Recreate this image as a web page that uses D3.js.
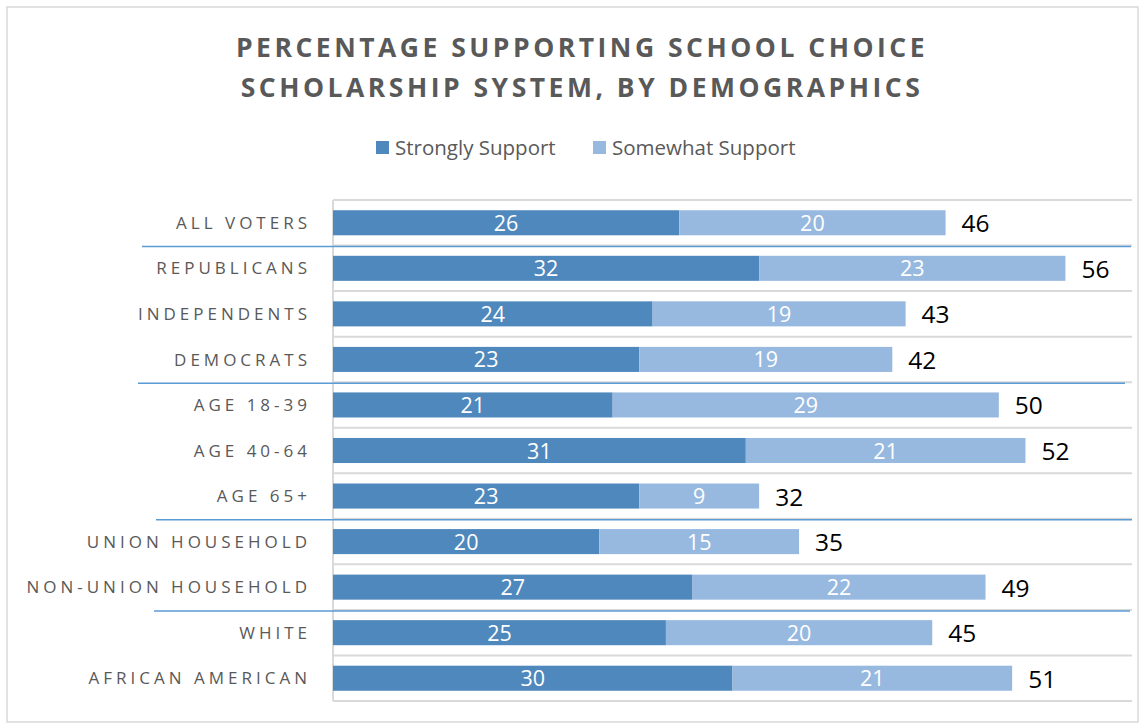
<!DOCTYPE html>
<html>
<head>
<meta charset="utf-8">
<script src="https://cdn.jsdelivr.net/npm/d3@7/dist/d3.min.js"></script>
<style>
  html, body { margin: 0; padding: 0; background: #fff; }
  svg { display: block; }
</style>
</head>
<body>
<svg id="chart" width="1145" height="725"></svg>
<script>
// Survey groups, top to bottom
const categories = [
  "ALL VOTERS", "REPUBLICANS", "INDEPENDENTS", "DEMOCRATS",
  "AGE 18-39", "AGE 40-64", "AGE 65+",
  "UNION HOUSEHOLD", "NON-UNION HOUSEHOLD",
  "WHITE", "AFRICAN AMERICAN"
];
const strongly = [26, 32, 24, 23, 21, 31, 23, 20, 27, 25, 30];
const somewhat = [20, 23, 19, 19, 29, 21, 9, 15, 22, 20, 21];
const totals   = [46, 56, 43, 42, 50, 52, 32, 35, 49, 45, 51];
const seriesNames = ["Strongly Support", "Somewhat Support"];
// Groups end after these categories; a divider is drawn below each
const groupEnds = ["ALL VOTERS", "DEMOCRATS", "AGE 65+", "NON-UNION HOUSEHOLD"];
const xDomainMax = 60;

const colors = ["#4f88bc", "#97b9e0"];
const svg = d3.select("#chart");
const W = 1145, H = 725;

// chart frame
svg.append("rect").attr("x", 7).attr("y", 7).attr("width", W - 14).attr("height", H - 10)
  .attr("fill", "#fff").attr("stroke", "#d9d9d9").attr("stroke-width", 1.5);

const plot = { left: 333, right: 1132, top: 200, bottom: 701 };

const x = d3.scaleLinear().domain([0, xDomainMax]).range([plot.left, plot.right]);
const y = d3.scaleBand().domain(categories).range([plot.top, plot.bottom]).paddingInner(0.45).paddingOuter(0.225);
const step = y.step();

// title
const title = svg.append("text").attr("text-anchor", "middle")
  .attr("font-family", "'Open Sans', sans-serif").attr("font-weight", 700)
  .attr("font-size", 26.5).attr("fill", "#595959").attr("letter-spacing", 3.5);
title.append("tspan").attr("x", 582).attr("y", 57).text("PERCENTAGE SUPPORTING SCHOOL CHOICE");
title.append("tspan").attr("x", 582).attr("y", 97).text("SCHOLARSHIP SYSTEM, BY DEMOGRAPHICS");

// legend
const legendX = [376, 593];
seriesNames.forEach((name, i) => {
  const g = svg.append("g").attr("transform", `translate(${legendX[i]},141)`);
  g.append("rect").attr("width", 13).attr("height", 13).attr("fill", colors[i]);
  g.append("text").attr("x", 19).attr("y", 14)
    .attr("font-family", "'Open Sans', sans-serif").attr("font-size", 20.5)
    .attr("fill", "#595959").text(name);
});

// horizontal gridlines at category boundaries
const boundaries = d3.range(categories.length + 1).map(i => plot.top + i * step);
svg.append("g").selectAll("line").data(boundaries).join("line")
  .attr("x1", plot.left).attr("x2", plot.right)
  .attr("y1", d => d).attr("y2", d => d)
  .attr("stroke", "#d9d9d9").attr("stroke-width", 2);

// vertical axis line
svg.append("line").attr("x1", plot.left).attr("x2", plot.left)
  .attr("y1", plot.top).attr("y2", plot.bottom)
  .attr("stroke", "#d9d9d9").attr("stroke-width", 2);

// stacked bars
const rows = categories.map((c, i) => ({ cat: c, vals: [strongly[i], somewhat[i]], total: totals[i] }));
const stack = d3.stack().keys([0, 1]).value((d, k) => d.vals[k]);
const layers = stack(rows);

layers.forEach((layer, k) => {
  const g = svg.append("g");
  g.selectAll("rect").data(layer).join("rect")
    .attr("x", d => x(d[0]))
    .attr("y", d => y(d.data.cat))
    .attr("width", d => x(d[1]) - x(d[0]))
    .attr("height", y.bandwidth())
    .attr("fill", colors[k]);
  g.selectAll("text").data(layer).join("text")
    .attr("x", d => (x(d[0]) + x(d[1])) / 2)
    .attr("y", d => y(d.data.cat) + y.bandwidth() / 2 + 8)
    .attr("text-anchor", "middle")
    .attr("font-family", "'Open Sans', sans-serif").attr("font-size", 21.5)
    .attr("fill", "#fff")
    .text(d => d.data.vals[k]);
});

// totals beyond bars
svg.append("g").selectAll("text").data(layers[1]).join("text")
  .attr("x", d => x(d[1]) + 16)
  .attr("y", d => y(d.data.cat) + y.bandwidth() / 2 + 9.5)
  .attr("font-family", "'Open Sans', sans-serif").attr("font-size", 24.5)
  .attr("fill", "#000")
  .text(d => d.data.total);

// category labels
const yAxis = d3.axisLeft(y).tickSize(0).tickPadding(0);
const ya = svg.append("g").attr("transform", `translate(311,0)`).call(yAxis);
ya.select(".domain").remove();
ya.selectAll("text")
  .attr("font-family", "'Open Sans', sans-serif").attr("font-size", 17)
  .attr("letter-spacing", 4).attr("fill", "#595959")
  .attr("dy", "0.36em");

// group dividers
const dividerX = { "ALL VOTERS": [142, 1131], "DEMOCRATS": [138, 1125], "AGE 65+": [156, 1132], "NON-UNION HOUSEHOLD": [154, 1130] };
svg.append("g").selectAll("line").data(groupEnds).join("line")
  .attr("x1", d => dividerX[d][0]).attr("x2", d => dividerX[d][1])
  .attr("y1", d => y(d) + y.bandwidth() + step * 0.225 + 1)
  .attr("y2", d => y(d) + y.bandwidth() + step * 0.225 + 1)
  .attr("stroke", "#5b9bd5").attr("stroke-width", 1.5);
</script>
</body>
</html>
